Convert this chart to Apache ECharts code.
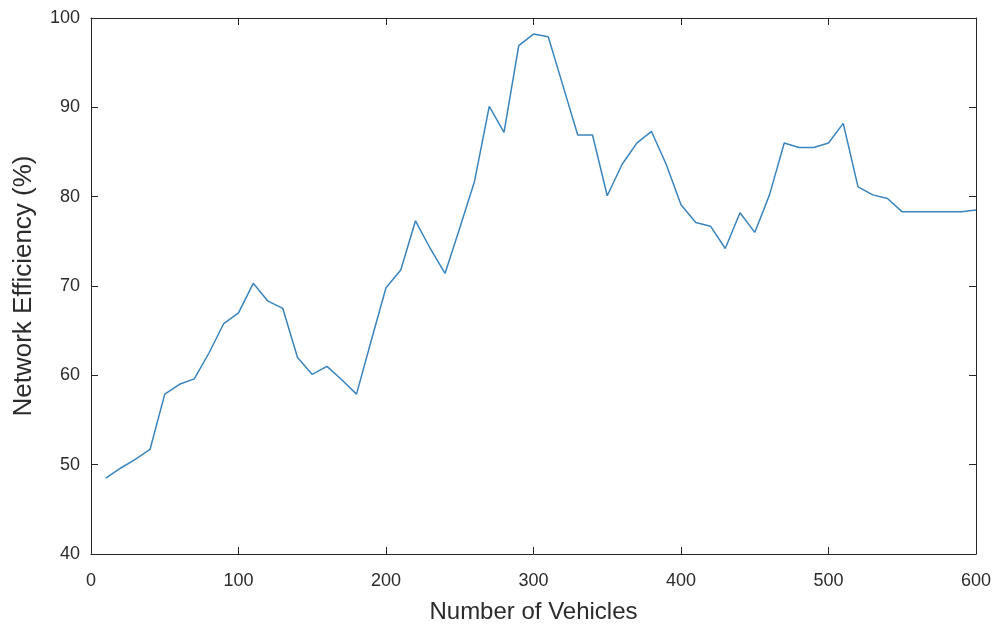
<!DOCTYPE html>
<html>
<head>
<meta charset="utf-8">
<script src="https://cdn.jsdelivr.net/npm/echarts@6/dist/echarts.min.js"></script>
<style>
  html, body { margin: 0; padding: 0; background: #fff; }
  #chart { width: 997px; height: 629px; }
</style>
</head>
<body>
<div id="chart"></div>
<script>
// Number of vehicles in the network
const vehicles = [10, 20, 30, 40, 50, 60, 70, 80, 90, 100,
  110, 120, 130, 140, 150, 160, 170, 180, 190, 200,
  210, 220, 230, 240, 250, 260, 270, 280, 290, 300,
  310, 320, 330, 340, 350, 360, 370, 380, 390, 400,
  410, 420, 430, 440, 450, 460, 470, 480, 490, 500,
  510, 520, 530, 540, 550, 560, 570, 580, 590, 600];

// Network efficiency (%) at each vehicle count
const efficiency = [48.5, 49.6, 50.6, 51.7, 57.9, 59.0, 59.6, 62.5, 65.8, 67.0,
  70.3, 68.3, 67.5, 62.0, 60.1, 61.0, 59.5, 57.9, 63.9, 69.8,
  71.8, 77.3, 74.2, 71.4, 76.5, 81.7, 90.1, 87.2, 96.9, 98.2,
  97.9, 92.4, 86.9, 86.9, 80.1, 83.6, 86.0, 87.3, 83.6, 79.1,
  77.1, 76.7, 74.2, 78.2, 76.0, 80.2, 86.0, 85.5, 85.5, 86.0,
  88.2, 81.1, 80.2, 79.8, 78.3, 78.3, 78.3, 78.3, 78.3, 78.5];

const xTicks = { min: 0, max: 600, interval: 100 };
const yTicks = { min: 40, max: 100, interval: 10 };

const axisColor = '#262626';
const textColor = '#2b2b2b';
const font = '"Liberation Sans", Arial, sans-serif';

const chart = echarts.init(document.getElementById('chart'), null, { renderer: 'canvas' });

// Boxed axes: every side has a line with short ticks pointing into the plot
const baseAxisLine = { show: true, onZero: false, lineStyle: { color: axisColor, width: 1 } };
const tickInside = { show: true, inside: true, length: 7, lineStyle: { color: axisColor, width: 1 } };

chart.setOption({
  animation: false,
  backgroundColor: '#ffffff',
  grid: { left: 91, right: 21, top: 18, bottom: 73, containLabel: false },
  xAxis: [
    {
      type: 'value', position: 'bottom',
      min: xTicks.min, max: xTicks.max, interval: xTicks.interval,
      name: 'Number of Vehicles', nameLocation: 'middle', nameGap: 46,
      nameTextStyle: { color: textColor, fontFamily: font, fontSize: 24 },
      axisLine: baseAxisLine, axisTick: tickInside,
      axisLabel: { color: textColor, fontFamily: font, fontSize: 18, margin: 18 },
      splitLine: { show: false }
    },
    {
      type: 'value', position: 'top',
      min: xTicks.min, max: xTicks.max, interval: xTicks.interval,
      axisLine: baseAxisLine, axisTick: tickInside,
      axisLabel: { show: false }, splitLine: { show: false }
    }
  ],
  yAxis: [
    {
      type: 'value', position: 'left',
      min: yTicks.min, max: yTicks.max, interval: yTicks.interval,
      name: 'Network Efficiency (%)', nameLocation: 'middle', nameGap: 54,
      nameRotate: 90,
      nameTextStyle: { color: textColor, fontFamily: font, fontSize: 26 },
      axisLine: baseAxisLine, axisTick: tickInside,
      axisLabel: { color: textColor, fontFamily: font, fontSize: 18, margin: 11 },
      splitLine: { show: false }
    },
    {
      type: 'value', position: 'right',
      min: yTicks.min, max: yTicks.max, interval: yTicks.interval,
      axisLine: baseAxisLine, axisTick: tickInside,
      axisLabel: { show: false }, splitLine: { show: false }
    }
  ],
  series: [
    {
      type: 'line',
      xAxisIndex: 0, yAxisIndex: 0,
      data: vehicles.map((v, i) => [v, efficiency[i]]),
      showSymbol: false,
      lineStyle: { color: '#3a84bd', width: 1.5 },
      itemStyle: { color: '#3a84bd' }
    }
  ]
});
</script>
</body>
</html>
